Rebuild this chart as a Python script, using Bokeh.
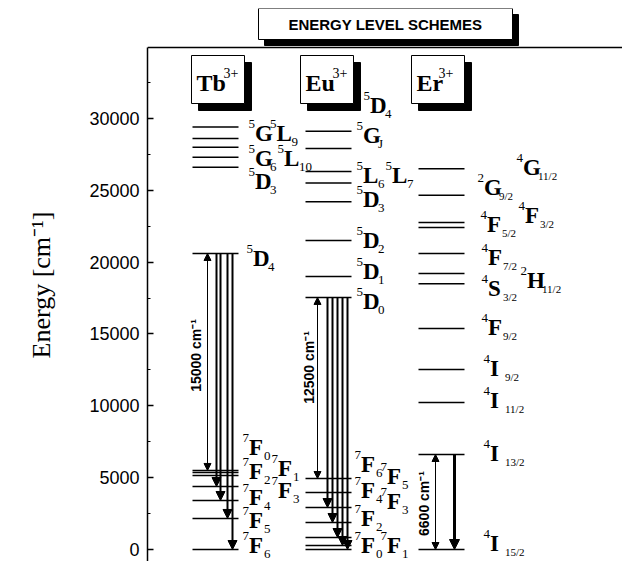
import math
from bokeh.plotting import figure
from bokeh.models import Range1d, Arrow, NormalHead, FixedTicker
from bokeh.core.properties import value
from bokeh.embed import file_html
from bokeh.resources import INLINE

# ---- data (energies in cm^-1) ----
tb_upper = [29400, 28600, 28000, 27300, 26600]
tb_d4 = 20600
tb_lower = [5500, 5360, 5150, 4380, 3410, 2160, 0]
tb_emission_ends = [4380, 3410, 2160, 0]

eu_upper = [29100, 27900, 26300, 25500, 24200, 21500, 19000, 17540]
eu_d0 = 17540
eu_lower = [4940, 3970, 2920, 1880, 835, 280, 0]
eu_emission_ends = [2920, 1880, 835, 280, 0]

er_levels = [26500, 24650, 22750, 22400, 20600, 19200, 18500, 15380, 12520, 10230, 6610, 0]
er_i13 = 6610

gap_labels = ["15000 cm⁻¹", "12500 cm⁻¹", "6600 cm⁻¹"]
ions = [("Tb", "3+"), ("Eu", "3+"), ("Er", "3+")]
yticks = [0, 5000, 10000, 15000, 20000, 25000, 30000]

PX = 1000 / 14.37  # energy per screen pixel
def E(py):  # page pixel y -> energy
    return (549 - py) * PX

p = figure(width=622, height=561, output_backend="svg", toolbar_location=None,
           x_range=Range1d(147, 622), y_range=Range1d(E(561), E(8)),
           x_axis_location=None, min_border_left=147, min_border_right=0,
           min_border_top=8, min_border_bottom=0)
p.outline_line_color = None
p.grid.visible = False
p.background_fill_color = "white"
ax = p.yaxis[0]
ax.bounds = (E(561), E(47))
ax.ticker = FixedTicker(ticks=yticks, minor_ticks=list(range(0, 35000, 2500)))
ax.major_tick_in = 6; ax.major_tick_out = 0
ax.minor_tick_in = 3; ax.minor_tick_out = 0
ax.axis_line_width = 1.5; ax.major_tick_line_width = 1.5
ax.axis_line_color = "black"; ax.major_tick_line_color = "black"; ax.minor_tick_line_color = "black"
ax.major_label_text_color = "black"
ax.major_label_text_font = "Liberation Sans"
ax.major_label_text_font_size = "18px"
ax.major_label_standoff = 8
ax.axis_label = "Energy [cm⁻¹]"
ax.axis_label_text_color = "black"
ax.axis_label_text_font = "Liberation Serif"
ax.axis_label_text_font_style = "normal"
ax.axis_label_text_font_size = "26px"
ax.axis_label_standoff = 30

# frame top
p.segment(x0=[147], x1=[622], y0=[E(47)], y1=[E(47)], line_color="black", line_width=1.5)

def levels(x0, x1, ys, lw=1.5):
    p.segment(x0=[x0]*len(ys), x1=[x1]*len(ys), y0=ys, y1=ys, line_color="black", line_width=lw)

levels(192, 238, tb_upper); levels(192, 238, [tb_d4]); levels(192, 238, tb_lower)
levels(305, 351, eu_upper); levels(305, 351, eu_lower)
levels(418, 464, er_levels)

def arrow(x, y0, y1, lw=2, size=9, both=False):
    p.add_layout(Arrow(x_start=x, y_start=y0, x_end=x, y_end=y1, line_width=lw,
                       end=NormalHead(size=size, fill_color="black", line_width=1),
                       start=NormalHead(size=size, fill_color="black", line_width=1) if both else None))

arrow(207, tb_lower[0], tb_d4, lw=1, size=7, both=True)
for x, yend in zip([216, 220, 227, 232], tb_emission_ends):
    arrow(x, tb_d4, yend, lw=2)
arrow(317, eu_lower[0], eu_d0, lw=1, size=7, both=True)
for x, yend in zip([327, 332, 337, 342, 347], eu_emission_ends):
    arrow(x, eu_d0, yend, lw=2)
arrow(435, er_levels[-1], er_i13, lw=1, size=7, both=True)
arrow(454, er_i13, 0, lw=3, size=10)

for lab, x, py in zip(gap_labels, [195, 308, 423], [355, 367, 503]):
    p.text(x=[x], y=[E(py)], text=[lab], angle=math.pi/2, text_align="center", text_baseline="middle",
           text_color="black", text_font=value("Liberation Sans"), text_font_style="bold", text_font_size="14px")

# boxes with shadows
def shadow_box(l, r, t, b, off=7):
    p.quad(left=[l+off], right=[r+off], top=[E(t+off)], bottom=[E(b+off)], fill_color="black", line_color="black")
    p.quad(left=[l], right=[r], top=[E(t)], bottom=[E(b)], fill_color="white", line_color="black", line_width=1)

shadow_box(258, 512, 8, 39, off=6)
p.text(x=[385], y=[E(24)], text=["ENERGY LEVEL SCHEMES"], text_align="center", text_baseline="middle",
       text_color="black", text_font=value("Liberation Sans"), text_font_style="bold", text_font_size="15px")

for (name, chg), l in zip(ions, [191, 300, 411]):
    shadow_box(l, l + 53, 55, 103)
    p.text(x=[l + 5], y=[E(82)], text=[name], text_baseline="middle", text_font=value("Liberation Serif"),
           text_color="black", text_font_style="bold", text_font_size="24px")
    p.text(x=[l + 5 + (27 if name != "Er" else 22)], y=[E(72)], text=[chg], text_baseline="middle",
           text_color="black", text_font=value("Liberation Serif"), text_font_size="14px")

# term labels: tokens "^x" superscript, "_x" subscript, else main letter
def term(markup, x, py):
    cx = x
    for tok in markup.split():
        if tok.startswith("^"):
            t = tok[1:]; size = 13; dy = -10; adv = 6.5 * len(t); st = "normal"
        elif tok.startswith("_"):
            t = tok[1:]; size = 11 if "/" in t else 13; dy = 8; adv = (5.5 if "/" in t else 6.5) * len(t) + 1; st = "normal"
        else:
            t = tok; size = 23; dy = 0; adv = 15; st = "bold"
        p.text(x=[cx], y=[E(py + dy)], text=[t], text_baseline="middle", text_font=value("Liberation Serif"),
               text_color="black", text_font_style=st, text_font_size=f"{size}px")
        cx += adv

tb_terms = [("^5 G ^5 L _9", 248, 133), ("^5 G _6 ^5 L _10", 248, 158), ("^5 D _3", 248, 181),
            ("^5 D _4", 246, 258), ("^7 F _0", 242, 447), ("^7 F _1", 271, 468), ("^7 F _2", 242, 471),
            ("^7 F _3", 271, 490), ("^7 F _4", 242, 497), ("^7 F _5", 242, 520), ("^7 F _6", 242, 545)]
eu_terms = [("^5 D _4", 363, 105), ("^5 G _J", 356, 135), ("^5 L _6 ^5 L _7", 356, 175),
            ("^5 D _3", 356, 199), ("^5 D _2", 356, 240), ("^5 D _1", 356, 271), ("^5 D _0", 356, 301),
            ("^7 F _6", 354, 464), ("^7 F _5", 380, 476), ("^7 F _4", 354, 490), ("^7 F _3", 380, 501),
            ("^7 F _2", 354, 518), ("^7 F _0", 354, 545), ("^7 F _1", 380, 545)]
er_terms = [("^4 G _11/2", 516, 167), ("^2 G _9/2", 477, 187), ("^4 F _3/2", 518, 215),
            ("^4 F _5/2", 480, 224), ("^4 F _7/2", 481, 257), ("^2 H _11/2", 520, 280),
            ("^4 S _3/2", 481, 288), ("^4 F _9/2", 481, 327), ("^4 I _9/2", 483, 368),
            ("^4 I _11/2", 483, 400), ("^4 I _13/2", 483, 453), ("^4 I _15/2", 483, 543)]
for m, x, py in tb_terms + eu_terms + er_terms:
    term(m, x, py)

open("out.html", "w").write(file_html(p, INLINE))
